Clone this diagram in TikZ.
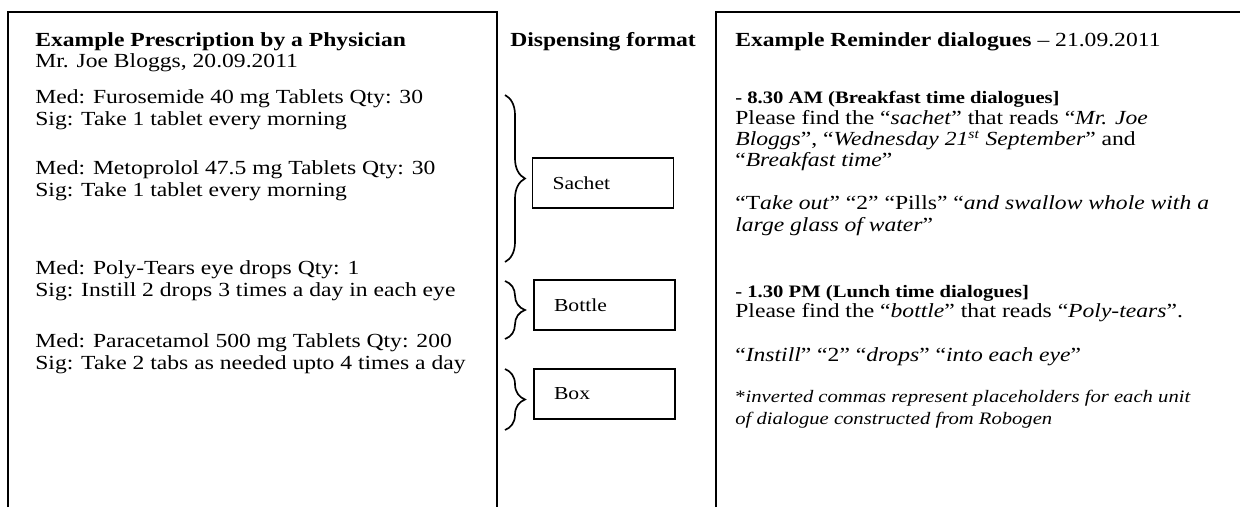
\documentclass[tikz,border=0pt]{standalone}
\usepackage{fontspec}
\setmainfont{Liberation Serif}[FakeStretch=1.18]
\usepackage{tikz}
\usetikzlibrary{decorations.pathreplacing}

\begin{document}
\begin{tikzpicture}[x=0.6pt, y=-0.6pt]
\tikzset{
  txt2/.style={anchor=base west, inner sep=0pt, align=left, font=\fontsize{12}{12.8}\selectfont},
  sub2/.style={txt2, font=\fontsize{10.5}{12.8}\selectfont\bfseries},
  note2/.style={txt2, font=\fontsize{10.5}{12.8}\selectfont},
  disp2/.style={rectangle, draw, line width=0.8pt, minimum width=84.6pt, minimum height=30pt,
    inner xsep=12pt, text width=60.6pt, align=left, font=\fontsize{11}{13}\selectfont},
  brc2/.style={decorate, decoration={brace, amplitude=12pt}, line width=1pt},
  frm2/.style={line width=1.2pt}
}
\useasboundingbox (0,0) rectangle (1240,507);
% column frames (open at the bottom)
\draw[frm2] (8,507) |- (497,12) -- (497,507);
\draw[frm2] (716,507) |- (1240,12);
% prescription column (base = last line)
\node[txt2] (presc) at (35,46) {\textbf{Example Prescription by a Physician}};
\node[txt2] (patient) at (35,67) {Mr. Joe Bloggs, 20.09.2011};
\node[txt2] (med1) at (35,125.3) {Med: Furosemide 40 mg Tablets Qty: 30\\Sig: Take 1 tablet every morning};
\node[txt2] (med2) at (35,196.3) {Med: Metoprolol 47.5 mg Tablets Qty: 30\\Sig: Take 1 tablet every morning};
\node[txt2] (med3) at (35,296.3) {Med: Poly-Tears eye drops Qty: 1\\Sig: Instill 2 drops 3 times a day in each eye};
\node[txt2] (med4) at (35,369.3) {Med: Paracetamol 500 mg Tablets Qty: 200\\Sig: Take 2 tabs as needed upto 4 times a day};
% dispensing column
\node[txt2, font=\fontsize{12}{12.8}\selectfont\bfseries] (dhead) at (510,46) {Dispensing format};
\node[disp2] (sachet) at (603,183) {Sachet};
\node[disp2] (bottle) at (604.5,305) {Bottle};
\node[disp2] (boxed) at (604.5,394) {Box};
\coordinate (s1) at (505,95);  \coordinate (s2) at (505,262);
\coordinate (b1) at (505,281); \coordinate (b2) at (505,339);
\coordinate (x1) at (505,369); \coordinate (x2) at (505,430);
\draw[brc2] (s1) -- (s2);
\draw[brc2] (b1) -- (b2);
\draw[brc2] (x1) -- (x2);
% reminder column
\node[txt2] (rhead) at (735,46) {\textbf{Example Reminder dialogues} – 21.09.2011};
\node[sub2] (am) at (735,103) {- 8.30 AM (Breakfast time dialogues]};
\node[txt2] (amfind) at (735,166.7) {Please find the “\textit{sachet}” that reads “\textit{Mr. Joe}\\\textit{Bloggs}”, “\textit{Wednesday 21\textsuperscript{st} September}” and\\“\textit{Breakfast time}”};
\node[txt2] (amtake) at (735,231.3) {“T\textit{ake out}” “2” “Pills” “\textit{and swallow whole with a}\\\textit{large glass of water}”};
\node[sub2] (pm) at (735,297) {- 1.30 PM (Lunch time dialogues]};
\node[txt2] (pmfind) at (735,317) {Please find the “\textit{bottle}” that reads “\textit{Poly-tears}”.};
\node[txt2] (pminst) at (735,361) {“\textit{Instill}” “2” “\textit{drops}” “\textit{into each eye}”};
\node[note2] (robo) at (735,424.3) {*\textit{inverted commas represent placeholders for each unit}\\\textit{of dialogue constructed from Robogen}};
\end{tikzpicture}
\end{document}
